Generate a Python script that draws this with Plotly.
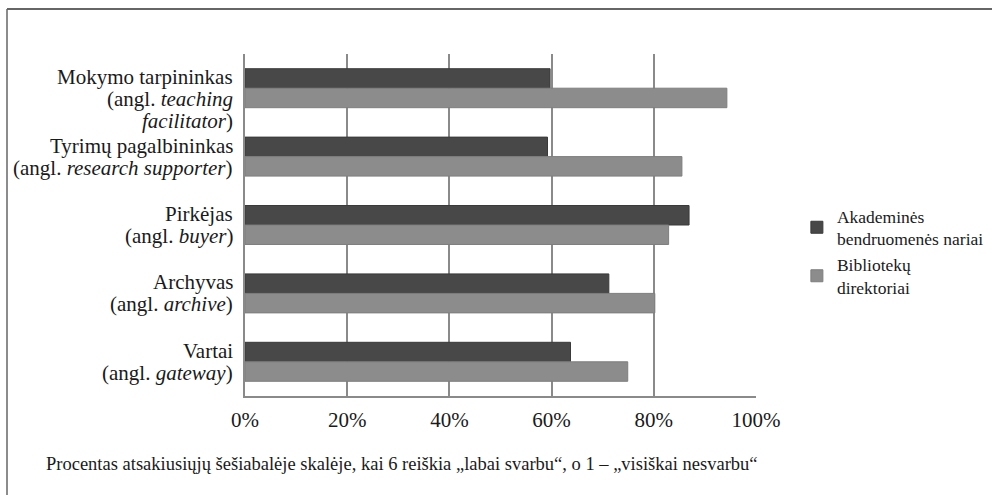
import plotly.graph_objects as go

categories = ["Mokymo", "Tyrimų", "Pirkėjas", "Archyvas", "Vartai"]
category_labels = [
    ["Mokymo tarpininkas", "(angl. <i>teaching</i>", "<i>facilitator</i>)"],
    ["Tyrimų pagalbininkas", "(angl. <i>research supporter</i>)"],
    ["Pirkėjas", "(angl. <i>buyer</i>)"],
    ["Archyvas", "(angl. <i>archive</i>)"],
    ["Vartai", "(angl. <i>gateway</i>)"],
]
academics = [59.7, 59.2, 86.9, 71.2, 63.7]
directors = [94.3, 85.5, 82.9, 80.2, 74.9]
series_names = ["Akademinės<br>bendruomenės nariai", "Bibliotekų<br>direktoriai"]
x_ticks = [0, 20, 40, 60, 80, 100]
x_tick_labels = ["0%", "20%", "40%", "60%", "80%", "100%"]
note = "Procentas atsakiusiųjų šešiabalėje skalėje, kai 6 reiškia „labai svarbu“, o 1 – „visiškai nesvarbu“"

FONT = "Liberation Serif"
TXT = "#1a1a1a"
DARK = "#484848"
LIGHT = "#8c8c8c"
GRID = "#8a8a8a"

fig = go.Figure()
fig.add_trace(go.Bar(y=categories, x=academics, orientation="h", name=series_names[0],
                     marker=dict(color=DARK, line=dict(color="#3a3a3a", width=1))))
fig.add_trace(go.Bar(y=categories, x=directors, orientation="h", name=series_names[1],
                     marker=dict(color=LIGHT, line=dict(color="#7e7e7e", width=1))))

L, R, T, B = 245, 236, 54, 99
W, H = 992, 495
pw, ph = W - L - R, H - T - B

LINE = 22
annotations = []
for cat, lines in zip(categories, category_labels):
    n = len(lines)
    extra = -11 if n == 3 else 0
    for i, ln in enumerate(lines):
        annotations.append(dict(
            text=ln, xref="paper", yref="y", x=(235 - L) / pw, y=cat,
            xanchor="right", yanchor="middle", showarrow=False,
            yshift=-(i - (n - 1) / 2) * LINE + extra,
            font=dict(family=FONT, size=21, color=TXT)))

annotations.append(dict(text=note, xref="paper", yref="paper",
                        x=(44 - L) / pw, y=(H - B - 464) / ph, xanchor="left", yanchor="middle",
                        showarrow=False, font=dict(family=FONT, size=18.5, color=TXT)))

fig.update_layout(
    width=W, height=H,
    margin=dict(l=L, r=R, t=T, b=B, autoexpand=False),
    paper_bgcolor="white", plot_bgcolor="white",
    barmode="group", bargap=0.43, bargroupgap=0,
    font=dict(family=FONT, color=TXT),
    legend=dict(x=1.08, y=(H - B - 198) / ph, xanchor="left", yanchor="top",
                font=dict(family=FONT, size=17.5, color=TXT),
                itemwidth=30, tracegroupgap=0, bgcolor="rgba(0,0,0,0)"),
    xaxis=dict(range=[0, 100], tickvals=x_ticks, ticktext=x_tick_labels,
               showgrid=True, gridcolor=GRID, gridwidth=1.5,
               showline=True, linecolor=GRID, linewidth=1.5,
               zeroline=False, ticks="", ticklabelstandoff=4,
               tickfont=dict(family=FONT, size=21, color=TXT),
               fixedrange=True),
    yaxis=dict(range=[len(categories) - 0.5, -0.5], showgrid=False, showline=True,
               linecolor=GRID, linewidth=1.5, ticks="", showticklabels=False,
               fixedrange=True),
    shapes=[
        dict(type="line", xref="paper", yref="paper",
             x0=(7 - L) / pw, x1=(W - L) / pw + 0.01,
             y0=(H - B - 9) / ph, y1=(H - B - 9) / ph,
             line=dict(color="#333333", width=1.5)),
        dict(type="line", xref="paper", yref="paper",
             x0=(7 - L) / pw, x1=(7 - L) / pw,
             y0=(H - B - 9) / ph, y1=(H - B - H) / ph - 0.01,
             line=dict(color="#666666", width=1.5)),
    ],
    annotations=annotations,
)

fig.write_html("out.html", config={"displayModeBar": False},
               post_script="document.body.style.margin='0';")
